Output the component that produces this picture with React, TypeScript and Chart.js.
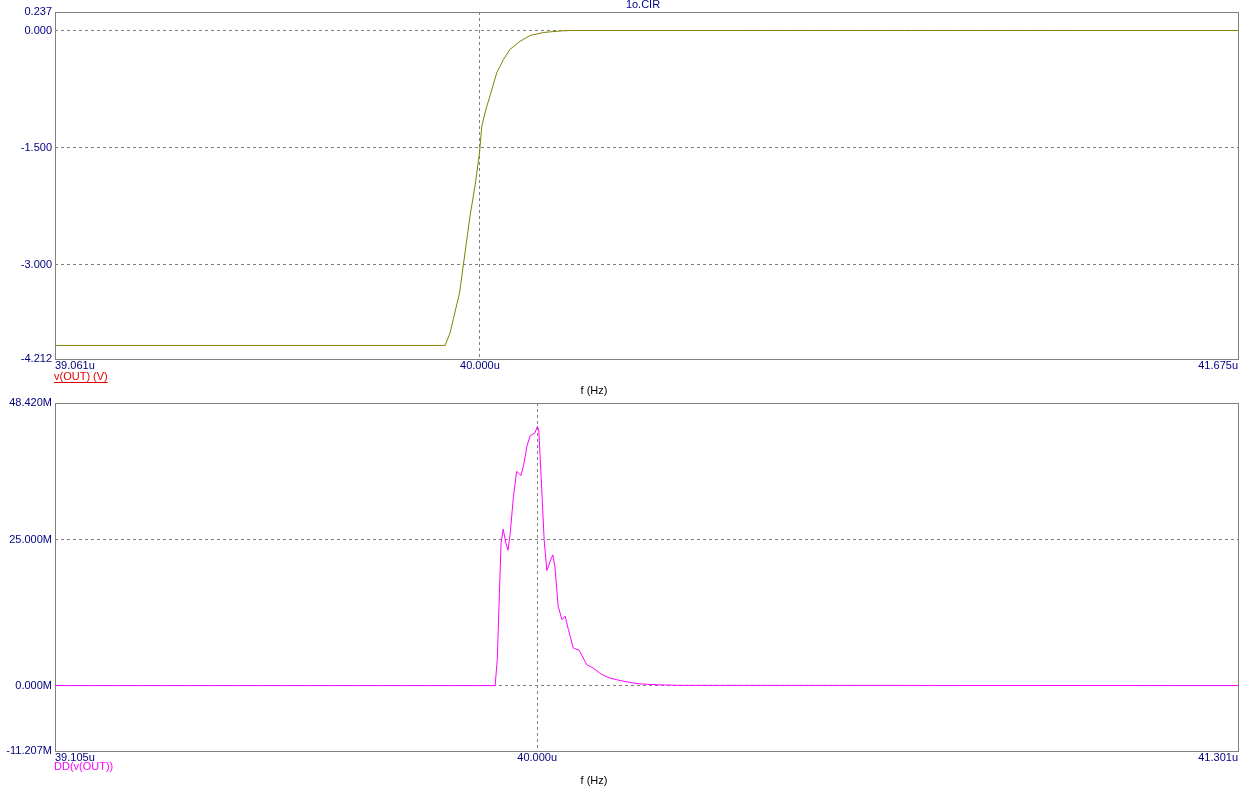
import React, { useEffect, useRef } from 'react';
import { Chart, registerables } from 'chart.js';

Chart.register(...registerables);

// ---------- data ----------
const topX = [39.061, 39.923, 39.934, 39.941, 39.955, 39.963, 39.978, 39.989, 39.999, 40.004, 40.013, 40.022, 40.037, 40.052, 40.066, 40.089, 40.111, 40.14, 40.178, 40.2, 41.675];
const topY = [-4.038, -4.038, -3.876, -3.705, -3.363, -3.02, -2.38, -1.996, -1.568, -1.227, -1.013, -0.842, -0.543, -0.372, -0.244, -0.137, -0.064, -0.026, -0.006, 0, 0];
const topXTicks = [39.061, 40.0, 41.675];
const topYTicks = [0.237, 0, -1.5, -3.0, -4.212];

const botX = [39.105, 39.922, 39.926, 39.93, 39.933, 39.937, 39.942, 39.946, 39.95, 39.956, 39.962, 39.97, 39.975, 39.981, 39.987, 39.996, 40.0005, 40.003, 40.008, 40.013, 40.018, 40.023, 40.029, 40.033, 40.039, 40.046, 40.052, 40.058, 40.067, 40.078, 40.092, 40.104, 40.12, 40.135, 40.154, 40.178, 40.191, 40.23, 40.265, 41.301];
const botY = [0, 0, 4.45, 15.9, 24.4, 26.8, 24.4, 23.2, 26.1, 32.4, 36.7, 36.0, 37.8, 41.0, 42.8, 43.3, 44.4, 43.8, 34.7, 25.0, 19.7, 21.0, 22.4, 20.4, 13.6, 11.3, 11.9, 9.6, 6.45, 6.05, 3.6, 3.0, 1.9, 1.3, 0.86, 0.46, 0.29, 0.12, 0.04, 0];
const botXTicks = [39.105, 40.0, 41.301];
const botYTicks = [48.42, 25, 0, -11.207];

const fileTitle = '1o.CIR';
const topTrace = 'v(OUT) (V)';
const botTrace = 'DD(v(OUT))';
const xTitle = 'f (Hz)';

// ---------- styles ----------
const NAVY = '#000080';
const GRID = '#808080';
const FONT = "'Liberation Sans', Arial, sans-serif";

type Item = { text: string; x: number; y: number; color: string; align: CanvasTextAlign; underline?: boolean };

function makeChart(
  canvas: HTMLCanvasElement,
  xs: number[],
  ys: number[],
  xTicks: number[],
  yTicks: number[],
  ySuffix: string,
  color: string,
  padTop: number,
  xAxisHeight: number,
  items: Item[]
) {
  const xmin = Math.min(...xTicks);
  const xmax = Math.max(...xTicks);
  const ymin = Math.min(...yTicks);
  const ymax = Math.max(...yTicks);
  const extras = {
    id: 'extras',
    afterDraw(chart: any) {
      const ctx = chart.ctx as CanvasRenderingContext2D;
      const a = chart.chartArea;
      ctx.save();
      ctx.strokeStyle = GRID;
      ctx.lineWidth = 1;
      ctx.setLineDash([]);
      ctx.strokeRect(Math.round(a.left) + 0.5, Math.round(a.top) + 0.5, Math.round(a.right - a.left), Math.round(a.bottom - a.top));
      ctx.font = `11px ${FONT}`;
      ctx.textBaseline = 'top';
      for (const it of items) {
        ctx.fillStyle = it.color;
        ctx.textAlign = it.align;
        ctx.fillText(it.text, it.x, it.y);
        if (it.underline) {
          const w = ctx.measureText(it.text).width;
          ctx.strokeStyle = it.color;
          ctx.beginPath();
          ctx.moveTo(it.x, it.y + 11.5);
          ctx.lineTo(it.x + w, it.y + 11.5);
          ctx.stroke();
        }
      }
      ctx.restore();
    },
  };
  const gridColor = (c: any) => {
    const v = c.tick ? c.tick.value : null;
    return v === null ? GRID : 'EDGE';
  };
  return new Chart(canvas, {
    type: 'line',
    data: {
      datasets: [
        {
          data: xs.map((x, i) => ({ x, y: ys[i] })),
          borderColor: color,
          borderWidth: 1,
          pointRadius: 0,
          tension: 0,
          fill: false,
        },
      ],
    },
    options: {
      responsive: false,
      animation: false,
      events: [],
      layout: { padding: { top: padTop, right: 13, left: 0, bottom: 0 } },
      plugins: { legend: { display: false }, tooltip: { enabled: false } },
      scales: {
        x: {
          type: 'linear',
          min: xmin,
          max: xmax,
          afterBuildTicks: (s: any) => {
            s.ticks = xTicks.map((v) => ({ value: v }));
          },
          afterFit: (s: any) => {
            s.height = xAxisHeight;
          },
          ticks: {
            autoSkip: false,
            maxRotation: 0,
            align: 'inner',
            padding: 0,
            color: NAVY,
            font: { family: FONT, size: 11 },
            callback: (v: any) => Number(v).toFixed(3) + 'u',
          },
          grid: {
            drawTicks: false,
            lineWidth: 1,
            borderDash: [3, 3],
            color: (c: any) => {
              const v = c.tick ? c.tick.value : null;
              return v === xmin || v === xmax ? 'rgba(0,0,0,0)' : GRID;
            },
          } as any,
          border: { display: false, dash: [3, 3] },
        },
        y: {
          type: 'linear',
          min: ymin,
          max: ymax,
          afterBuildTicks: (s: any) => {
            s.ticks = yTicks.map((v) => ({ value: v }));
          },
          afterFit: (s: any) => {
            s.width = 55;
          },
          ticks: {
            autoSkip: false,
            padding: 3,
            color: NAVY,
            font: { family: FONT, size: 11 },
            callback: (v: any) => Number(v).toFixed(3) + ySuffix,
          },
          grid: {
            drawTicks: false,
            lineWidth: 1,
            borderDash: [3, 3],
            color: (c: any) => {
              const v = c.tick ? c.tick.value : null;
              return v === ymin || v === ymax ? 'rgba(0,0,0,0)' : GRID;
            },
          } as any,
          border: { display: false, dash: [3, 3] },
        },
      },
    } as any,
    plugins: [extras],
  });
}

export default function App() {
  const topRef = useRef<HTMLCanvasElement>(null);
  const botRef = useRef<HTMLCanvasElement>(null);

  useEffect(() => {
    const c1 = makeChart(topRef.current!, topX, topY, topXTicks, topYTicks, '', '#808000', 12, 41, [
      { text: fileTitle, x: 643, y: -1, color: NAVY, align: 'center' },
      { text: topTrace, x: 54, y: 371, color: '#e00000', align: 'left', underline: true },
      { text: xTitle, x: 594, y: 385, color: '#000000', align: 'center' },
    ]);
    const c2 = makeChart(botRef.current!, botX, botY, botXTicks, botYTicks, 'M', '#ff00ff', 13, 43, [
      { text: botTrace, x: 54, y: 371, color: '#ff00ff', align: 'left' },
      { text: xTitle, x: 594, y: 385, color: '#000000', align: 'center' },
    ]);
    return () => {
      c1.destroy();
      c2.destroy();
    };
  }, []);

  return (
    <div style={{ position: 'absolute', left: 0, top: 0, width: 1251, height: 794, background: '#ffffff' }}>
      <canvas ref={topRef} width={1251} height={400} style={{ position: 'absolute', left: 0, top: 0, width: 1251, height: 400 }} />
      <canvas ref={botRef} width={1251} height={404} style={{ position: 'absolute', left: 0, top: 390, width: 1251, height: 404 }} />
    </div>
  );
}
